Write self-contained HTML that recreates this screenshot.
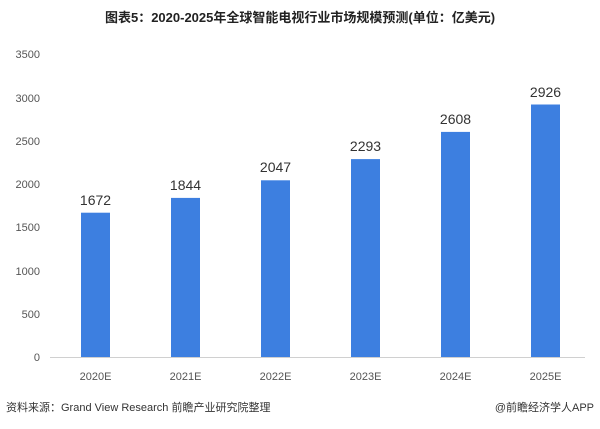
<!DOCTYPE html><html><head><meta charset="utf-8"><style>
body{margin:0;width:600px;height:424px;background:#fff;overflow:hidden}
text{font-family:"Liberation Sans","Noto Sans CJK SC",sans-serif}
</style></head><body>
<svg width="600" height="424" xmlns="http://www.w3.org/2000/svg">
<text x="300" y="22" text-anchor="middle" font-size="13" font-weight="bold" fill="#222">图表5：2020-2025年全球智能电视行业市场规模预测(单位：亿美元)</text>
<g font-size="11" fill="#555" text-anchor="end">
<text x="40" y="361">0</text><text x="40" y="318">500</text><text x="40" y="275">1000</text><text x="40" y="231">1500</text><text x="40" y="188">2000</text><text x="40" y="145">2500</text><text x="40" y="102">3000</text><text x="40" y="58">3500</text>
</g>
<line x1="50" y1="357.5" x2="585" y2="357.5" stroke="#d0d0d0"/>
<g fill="#3d7fe0">
<rect x="81" y="212.7" width="29" height="144.3"/>
<rect x="171" y="197.9" width="29" height="159.1"/>
<rect x="261" y="180.3" width="29" height="176.7"/>
<rect x="351" y="159.1" width="29" height="197.9"/>
<rect x="441" y="131.9" width="29" height="225.1"/>
<rect x="531" y="104.5" width="29" height="252.5"/>
</g>
<g font-size="14" fill="#333" text-anchor="middle">
<text x="95.5" y="205">1672</text><text x="185.5" y="190">1844</text><text x="275.5" y="172">2047</text><text x="365.5" y="151">2293</text><text x="455.5" y="124">2608</text><text x="545.5" y="97">2926</text>
</g>
<g font-size="11" fill="#555" text-anchor="middle">
<text x="95.5" y="380">2020E</text><text x="185.5" y="380">2021E</text><text x="275.5" y="380">2022E</text><text x="365.5" y="380">2023E</text><text x="455.5" y="380">2024E</text><text x="545.5" y="380">2025E</text>
</g>
<text x="6" y="411" font-size="11" fill="#333">资料来源：Grand View Research 前瞻产业研究院整理</text>
<text x="594" y="411" font-size="11" fill="#333" text-anchor="end">@前瞻经济学人APP</text>
</svg>
</body></html>
